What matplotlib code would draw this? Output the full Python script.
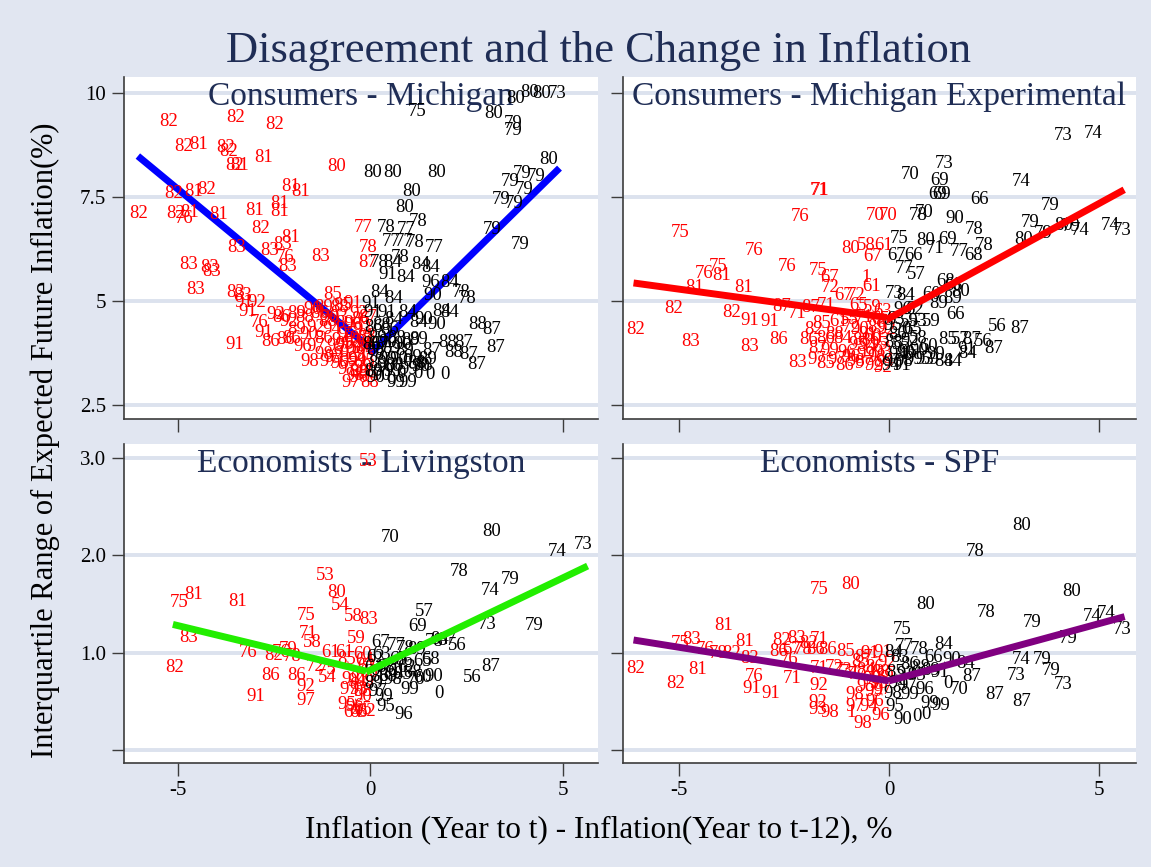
import numpy as np
import matplotlib
matplotlib.use("Agg")
import matplotlib.pyplot as plt

plt.rcParams['font.family'] = ['Liberation Serif', 'DejaVu Serif']

# ---- data: (year label, change in inflation, interquartile range) ----
mich_pts = [
    # red, left side
    ("82",-5.24,9.31),("82",-3.50,9.41),("82",-2.48,9.23),("82",-4.84,8.71),("81",-4.44,8.75),
    ("82",-3.75,8.68),("82",-3.68,8.59),("82",-3.52,8.25),("81",-3.40,8.25),("81",-2.77,8.44),
    ("80",-0.88,8.23),("82",-5.09,7.59),("81",-4.59,7.63),("82",-4.24,7.67),("82",-6.00,7.11),
    ("82",-5.06,7.11),("81",-4.69,7.13),("76",-4.84,6.99),("81",-3.94,7.07),("81",-3.00,7.17),
    ("81",-2.35,7.33),("81",-2.35,7.15),("81",-2.06,7.76),("81",-1.79,7.63),("82",-2.85,6.75),
    ("81",-2.06,6.53),("83",-2.28,6.35),("83",-3.47,6.27),("83",-2.60,6.21),("76",-2.22,6.03),
    ("83",-2.15,5.83),("83",-1.29,6.07),("83",-4.71,5.87),("83",-4.17,5.79),("83",-4.12,5.71),
    ("83",-4.52,5.27),("83",-3.50,5.20),("83",-3.30,5.12),("91",-3.28,4.95),("92",-2.95,4.95),
    ("91",-3.18,4.75),("92",-2.45,4.67),("76",-2.88,4.47),("91",-2.75,4.25),("86",-2.58,4.03),
    ("86",-2.20,4.07),("91",-3.52,3.95),("85",-0.96,5.15),("98",-1.56,3.55),("97",-1.06,3.55),
    ("97",-0.51,3.03),("88",-0.02,3.03),("77",-0.17,6.77),("78",-0.05,6.29),("87",-0.05,5.91),
    ("91",-0.46,4.93),("88",-0.80,4.85),("89",-1.20,4.85),
    ("86",-2.30,4.60),("92",-2.10,4.50),("89",-1.90,4.70),("88",-1.70,4.60),("90",-1.50,4.80),
    ("86",-1.30,4.70),("88",-1.10,4.50),("89",-1.90,4.30),("90",-1.60,4.20),("92",-1.40,4.35),
    ("86",-1.20,4.10),("94",-1.00,4.30),("93",-0.80,4.60),("85",-0.70,4.90),("92",-0.30,4.70),
    ("86",-2.05,4.10),("96",-1.75,3.90),("97",-1.40,3.90),("98",-1.20,3.70),("99",-0.90,3.90),
    ("94",-0.75,4.05),("95",-0.60,4.20),("96",-0.45,4.40),("97",-0.30,4.10),("93",-0.20,4.30),
    ("98",-0.10,3.90),("92",-0.55,3.75),("94",-0.35,3.60),("95",-0.15,3.70),("96",-0.80,3.50),
    ("97",-0.60,3.35),("98",-0.40,3.20),("99",-0.20,3.40),("86",-0.25,4.55),("87",-0.05,4.60),
    ("88",-0.10,4.15),("89",-0.65,4.45),("90",-1.05,4.60),("93",-0.95,3.65),("95",-0.10,3.55),
    ("96",-0.05,3.25),("97",-0.25,3.85),("92",-0.45,4.00),("91",-0.70,3.70),("98",-0.30,3.30),
    ("99",-0.55,3.55),("94",-0.15,4.00),("93",-0.40,3.85),("95",-0.65,3.95),("96",-0.30,3.15),
    # black, right side
    ("80",3.78,9.86),("80",4.14,10.00),("80",4.46,9.99),("73",4.87,9.99),("75",1.22,9.55),
    ("80",3.21,9.50),("79",3.71,9.27),("79",3.71,9.09),("80",4.65,8.40),("80",0.06,8.08),
    ("80",0.58,8.08),("80",1.72,8.08),("79",3.96,8.07),("79",4.31,8.00),("79",3.64,7.87),
    ("79",4.01,7.67),("80",1.08,7.63),("80",0.91,7.25),("79",3.41,7.43),("79",3.74,7.33),
    ("79",3.16,6.72),("79",3.91,6.35),("78",0.43,6.77),("77",0.93,6.72),("78",1.25,6.91),
    ("77",0.56,6.43),("77",0.88,6.43),("78",1.17,6.41),("77",1.67,6.29),("78",0.23,5.91),
    ("84",0.58,5.91),("78",0.78,6.05),("84",1.32,5.87),("84",1.57,5.79),("91",0.46,5.63),
    ("84",0.93,5.55),("96",1.57,5.43),("84",2.07,5.43),("78",2.37,5.19),("78",2.52,5.05),
    ("90",1.62,5.12),("84",0.26,5.19),("84",0.61,5.05),("91",0.03,4.93),("91",0.06,4.71),
    ("91",0.43,4.71),("84",0.98,4.71),("84",1.87,4.75),("84",2.07,4.71),("90",1.72,4.43),
    ("84",1.27,4.47),("88",2.79,4.43),("87",3.16,4.31),("87",3.26,3.89),("89",1.27,4.07),
    ("88",2.02,3.99),("87",2.42,3.99),("88",2.17,3.75),("87",2.57,3.71),("87",2.77,3.47),
    ("0",1.55,3.23),("0",1.95,3.23),("90",1.32,3.43),("99",0.68,3.03),("99",0.98,3.03),
    ("86",0.10,4.35),("88",0.30,4.40),("86",0.50,4.30),("89",0.20,4.10),("90",0.45,4.00),
    ("88",0.70,4.10),("89",0.90,3.80),("88",0.15,3.80),("87",0.35,3.70),("89",0.55,3.85),
    ("90",0.75,3.60),("0",0.95,3.55),("99",1.10,3.65),("88",1.20,3.50),("89",0.20,3.50),
    ("90",0.40,3.40),("99",0.60,3.30),("0",0.80,3.25),("99",1.00,3.35),("89",0.10,3.30),
    ("90",0.30,3.20),("0",0.55,3.10),("88",1.40,3.45),("89",1.50,3.60),("87",1.60,3.80),
    ("86",0.05,3.95),("87",0.25,3.95),("88",0.65,3.45),("90",0.85,3.95),("89",1.05,4.05),
    ("99",0.45,3.60),("0",1.25,3.25),("90",0.15,3.15),("84",0.60,4.55),("90",1.40,4.55),
]

mexp_pts = [
    # red
    ("82",-6.02,4.30),("82",-5.11,4.82),("83",-4.72,4.02),("75",-4.96,6.64),("76",-4.40,5.66),
    ("75",-4.05,5.82),("81",-3.97,5.62),("81",-4.62,5.32),("81",-3.46,5.32),("82",-3.75,4.72),
    ("91",-3.32,4.52),("91",-2.84,4.50),("76",-3.21,6.20),("76",-2.41,5.82),("76",-2.11,7.02),
    ("71",-1.66,7.66),("71",-1.64,7.66),("75",-1.69,5.72),("67",-1.41,5.56),("72",-1.41,5.32),
    ("67",-1.07,5.14),("72",-0.77,5.14),("61",-0.42,5.34),("1",-0.55,5.56),("70",-0.33,7.06),
    ("70",-0.03,7.06),("80",-0.91,6.26),("58",-0.55,6.32),("61",-0.12,6.34),("67",-0.39,6.06),
    ("87",-2.54,4.86),("71",-2.19,4.70),("87",-1.85,4.84),("71",-1.50,4.88),("86",-2.63,4.06),
    ("83",-3.32,3.90),("83",-2.18,3.51),("97",-1.72,3.58),("86",-1.91,4.06),("65",-0.72,4.88),
    ("59",-0.40,4.85),("63",-0.15,4.75),
    ("82",-1.80,4.30),("85",-1.60,4.45),("86",-1.50,4.10),("88",-1.30,4.20),("84",-1.10,4.10),
    ("72",-0.90,4.35),("90",-0.70,4.30),("91",-0.50,4.20),("89",-0.30,4.35),("93",-0.20,4.05),
    ("94",-0.50,3.90),("95",-0.75,3.95),("96",-1.00,3.75),("97",-1.25,3.60),("98",-0.80,3.55),
    ("92",-0.35,3.45),("99",-0.55,3.70),("85",-1.50,3.50),("86",-1.05,3.45),("93",-0.15,3.75),
    ("92",-0.05,4.30),("55",-0.95,4.55),("71",-0.60,4.60),("65",-0.20,4.55),("60",-0.40,4.15),
    ("94",-0.10,3.55),("95",-0.25,3.95),("87",-1.70,3.85),("88",-0.65,4.05),("96",-0.90,3.65),
    ("99",-1.40,3.80),("61",-1.20,4.50),("98",-0.30,3.65),("97",-0.60,3.50),("92",-0.15,3.40),
    # black
    ("73",4.14,8.98),("74",4.86,9.02),("73",1.31,8.30),("70",0.51,8.04),("69",1.21,7.90),
    ("69",1.16,7.56),("69",1.25,7.56),("74",3.13,7.86),("66",2.15,7.44),("79",3.82,7.30),
    ("78",0.70,7.06),("70",0.84,7.12),("90",1.57,6.97),("78",2.03,6.72),("79",3.36,6.88),
    ("79",3.67,6.62),("80",3.21,6.48),("80",4.15,6.80),("79",4.32,6.78),("74",4.55,6.68),
    ("74",5.26,6.82),("73",5.55,6.68),("75",0.23,6.50),("80",0.88,6.46),("69",1.40,6.48),
    ("71",1.09,6.26),("67",0.19,6.10),("66",0.58,6.10),("77",1.66,6.18),("68",2.00,6.10),
    ("78",2.26,6.34),("77",0.36,5.78),("57",0.66,5.64),("68",1.35,5.46),("68",1.53,5.38),
    ("60",1.01,5.16),("80",1.70,5.22),("89",1.18,4.94),("89",1.52,5.06),("73",0.13,5.18),
    ("84",0.40,5.14),("96",0.32,4.78),("62",0.62,4.78),("66",1.57,4.66),("59",0.49,4.50),
    ("53",0.70,4.50),("59",1.01,4.50),("56",2.58,4.38),("87",3.11,4.34),("85",1.40,4.06),
    ("57",1.70,4.06),("87",1.96,4.06),("56",2.25,4.02),("87",2.48,3.86),("91",1.86,3.82),
    ("84",1.86,3.74),("84",1.31,3.54),("84",1.52,3.54),("59",0.97,3.58),("90",0.41,3.74),
    ("95",0.10,4.40),("86",0.20,4.20),("0",0.40,4.30),("88",0.10,4.00),("55",0.30,3.95),
    ("92",0.50,4.05),("94",0.20,3.70),("96",0.45,3.75),("90",0.70,3.80),("97",0.10,3.55),
    ("98",0.35,3.55),("99",0.60,3.60),("93",0.85,3.60),("60",0.95,3.90),("58",0.70,4.10),
    ("91",0.30,3.45),("94",0.05,3.45),("99",1.10,3.70),("63",0.15,4.55),("65",0.55,4.30),
]

liv_pts = [
    # red
    ("53",-0.05,2.96),("53",-1.17,1.79),("80",-0.87,1.62),("54",-0.77,1.48),("58",-0.43,1.37),
    ("83",-0.03,1.34),("75",-1.67,1.38),("71",-1.62,1.20),("58",-1.50,1.10),("59",-0.35,1.15),
    ("75",-4.95,1.52),("81",-4.57,1.60),("81",-3.44,1.53),("83",-4.72,1.16),("82",-5.07,0.85),
    ("76",-3.16,1.00),("82",-2.51,0.97),("76",-2.31,1.00),("78",-2.02,0.96),("79",-2.12,1.03),
    ("86",-2.59,0.76),("86",-1.90,0.77),("72",-1.42,0.86),("75",-1.12,0.83),("54",-1.12,0.74),
    ("92",-1.67,0.65),("97",-1.67,0.51),("91",-2.97,0.55),("61",-1.02,1.00),("61",-0.67,1.00),
    ("85",-0.60,0.93),("60",-0.20,0.98),("64",-0.15,0.92),("62",-0.10,0.86),("98",-0.50,0.72),
    ("94",-0.35,0.70),("97",-0.55,0.62),("93",-0.30,0.62),("95",-0.60,0.47),("96",-0.40,0.45),
    ("64",-0.45,0.38),("63",-0.30,0.38),("65",-0.20,0.42),("62",-0.10,0.40),("90",-0.20,0.55),
    ("99",-0.15,0.70),("98",-0.20,0.60),("66",-0.05,0.80),
    # black
    ("70",0.52,2.18),("80",3.17,2.24),("74",4.86,2.04),("73",5.54,2.11),("78",2.31,1.83),
    ("74",3.13,1.64),("79",3.65,1.75),("57",1.41,1.42),("69",1.24,1.27),("73",3.03,1.29),
    ("79",4.27,1.28),("84",1.81,1.14),("78",1.66,1.11),("87",2.00,1.12),("56",2.26,1.07),
    ("87",3.13,0.86),("56",2.64,0.74),("0",1.78,0.58),("99",1.02,0.62),("67",0.27,1.10),
    ("77",0.67,1.07),("78",0.92,1.04),("89",1.22,1.03),("66",0.87,0.92),("65",1.37,0.91),
    ("68",1.57,0.93),("90",1.66,0.75),("60",1.37,0.74),("95",0.42,0.45),("96",0.87,0.36),
    ("62",0.15,0.95),("63",0.30,0.98),("64",0.10,0.85),("68",0.40,0.85),("71",0.55,0.82),
    ("61",0.70,0.80),("85",0.85,0.78),("86",0.25,0.75),("88",0.45,0.75),("89",0.10,0.68),
    ("98",0.60,0.72),("62",0.95,0.85),("65",0.75,0.93),("97",0.20,0.60),("99",0.35,0.55),
    ("88",1.10,0.80),("70",1.20,0.72),
]

spf_pts = [
    # red
    ("82",-6.02,0.84),("82",-5.06,0.68),("81",-4.55,0.83),("75",-4.96,1.09),("83",-4.68,1.14),
    ("76",-4.37,1.03),("78",-4.05,0.99),("82",-3.75,0.99),("83",-3.32,0.94),("81",-3.92,1.28),
    ("81",-3.42,1.11),("76",-3.21,0.75),("91",-3.27,0.63),("91",-2.80,0.58),("82",-2.54,1.12),
    ("83",-2.19,1.15),("71",-1.67,1.14),("82",-1.90,1.09),("86",-2.63,1.01),("67",-2.32,1.03),
    ("78",-2.05,1.03),("86",-1.75,1.03),("86",-1.46,1.03),("76",-2.37,0.93),("71",-2.30,0.73),
    ("75",-1.67,1.65),("80",-0.91,1.70),("85",-1.03,1.01),("85",-0.68,0.91),("91",-0.46,0.99),
    ("91",-0.15,1.00),("71",-1.67,0.84),("92",-1.66,0.66),("92",-1.69,0.49),("93",-1.69,0.42),
    ("98",-1.41,0.38),("1",-0.90,0.38),("98",-0.62,0.27),("96",-0.20,0.35),("98",-0.81,0.57),
    ("97",-0.81,0.45),("94",-0.47,0.45),("96",-0.35,0.50),
    ("72",-1.30,0.85),("73",-1.10,0.82),("74",-0.95,0.80),("77",-0.75,0.78),("84",-0.55,0.82),
    ("86",-0.35,0.85),("88",-0.20,0.80),("89",-0.10,0.75),("90",-0.40,0.72),("93",-0.25,0.68),
    ("95",-0.55,0.65),("97",-0.15,0.62),("99",-0.35,0.60),("92",-0.05,0.90),("87",-0.60,0.95),
    # black
    ("80",3.15,2.31),("78",2.05,2.04),("80",4.34,1.63),("80",0.88,1.49),("78",2.31,1.41),
    ("79",3.39,1.31),("74",4.83,1.37),("74",5.16,1.40),("73",5.55,1.24),("79",4.25,1.15),
    ("75",0.32,1.24),("84",1.31,1.08),("77",0.36,1.06),("78",0.71,1.03),("74",3.15,0.93),
    ("79",3.65,0.93),("79",3.85,0.82),("73",3.02,0.76),("73",4.14,0.67),("87",2.50,0.57),
    ("87",3.15,0.50),("87",1.96,0.75),("70",1.66,0.62),("99",0.96,0.48),("99",1.22,0.46),
    ("90",0.32,0.31),("0",0.66,0.34),("0",0.88,0.36),("95",0.13,0.45),("96",0.84,0.62),
    ("99",0.49,0.57),("84",1.83,0.89),("90",1.50,0.93),
    ("84",0.10,1.00),("83",0.25,0.95),("86",0.50,0.88),("88",0.75,0.85),("89",1.00,0.82),
    ("85",0.15,0.80),("92",0.40,0.78),("93",0.65,0.76),("94",0.20,0.68),("97",0.45,0.66),
    ("98",0.10,0.58),("91",1.20,0.80),("0",1.40,0.68),("66",1.05,0.95),
]

# fitted lines either side of zero: (x_start, y_start, x_end, y_end)
mich_fit = [(-6.03, 8.48, 0.0, 3.87), (0.0, 3.72, 4.92, 8.19)]
mexp_fit = [(-6.07, 5.43, -0.05, 4.60), (-0.05, 4.55, 5.59, 7.67)]
liv_fit = [(-5.12, 1.29, -0.10, 0.81), (-0.10, 0.80, 5.65, 1.89)]
spf_fit = [(-6.07, 1.13, 0.0, 0.71), (0.0, 0.71, 5.60, 1.37)]

W, H = 1151, 867
navy = '#1f2d55'
bg = '#E1E6F1'
grid_c = '#DCE2EE'
axis_c = '#3c3c3c'

fig = plt.figure(figsize=(W / 100, H / 100), dpi=100)
fig.patch.set_facecolor(bg)


def add_panel(l, t, r, b):
    return fig.add_axes([l / W, 1 - b / H, (r - l) / W, (b - t) / H])


def draw(ax, pts, fits, color, name, xlim, ylim, yticks, ylabels, show_x, show_y, line_on_top):
    ax.set_facecolor('white')
    ax.set_xlim(*xlim)
    ax.set_ylim(*ylim)
    for lab, x, y in pts:
        ax.text(x, y, lab, color='red' if x < 0 else 'black', ha='center', va='center',
                fontsize=13.5, zorder=2)
    z = 3 if line_on_top else 1
    for x0, y0, x1, y1 in fits:
        ax.plot([x0, x1], [y0, y1], color=color, lw=5, solid_capstyle='butt', zorder=z)
    ax.set_yticks(yticks)
    ax.set_yticklabels(ylabels if show_y else [])
    ax.set_xticks([-5, 0, 5])
    ax.set_xticklabels(['-5', '0', '5'] if show_x else [])
    ax.grid(axis='y', color=grid_c, lw=2.8)
    ax.set_axisbelow(True)
    for s in ['top', 'right']:
        ax.spines[s].set_visible(False)
    for s in ['left', 'bottom']:
        ax.spines[s].set_color(axis_c)
        ax.spines[s].set_linewidth(1.2)
    ax.tick_params(length=9, width=1, color=axis_c, labelsize=15, pad=4)
    h = ax.get_position().height * H
    ax.text(0.5, 1 - 20 / h, name, transform=ax.transAxes, ha='center', va='center',
            fontsize=24, color=navy, zorder=1.5)


ax1 = add_panel(124, 77, 598, 419)
draw(ax1, mich_pts, mich_fit, 'blue', 'Consumers - Michigan', (-6.39, 5.92), (2.16, 10.38),
     [2.5, 5, 7.5, 10], ['2.5', '5', '7.5', '10'], False, True, False)
ax2 = add_panel(623, 77, 1136, 419)
draw(ax2, mexp_pts, mexp_fit, 'red', 'Consumers - Michigan Experimental', (-6.32, 5.87),
     (2.16, 10.38), [2.5, 5, 7.5, 10], [], False, False, True)
ax3 = add_panel(124, 444, 598, 763)
draw(ax3, liv_pts, liv_fit, '#22ee00', 'Economists - Livingston', (-6.39, 5.92), (-0.134, 3.144),
     [0, 1, 2, 3], ['', '1.0', '2.0', '3.0'], True, True, True)
ax4 = add_panel(623, 444, 1136, 763)
draw(ax4, spf_pts, spf_fit, '#800080', 'Economists - SPF', (-6.32, 5.87), (-0.134, 3.144),
     [0, 1, 2, 3], [], True, False, True)

fig.text(598 / W, 1 - 51 / H, 'Disagreement and the Change in Inflation', ha='center',
         va='center', fontsize=32, color=navy)
fig.text(599 / W, 1 - 830 / H, 'Inflation (Year to t) - Inflation(Year to t-12), %',
         ha='center', va='center', fontsize=22.5)
fig.text(45 / W, 1 - 440 / H, 'Interquartile Range of Expected Future Inflation(%)',
         ha='center', va='center', rotation=90, fontsize=22)

fig.savefig('out.png', dpi=100, facecolor=bg)
